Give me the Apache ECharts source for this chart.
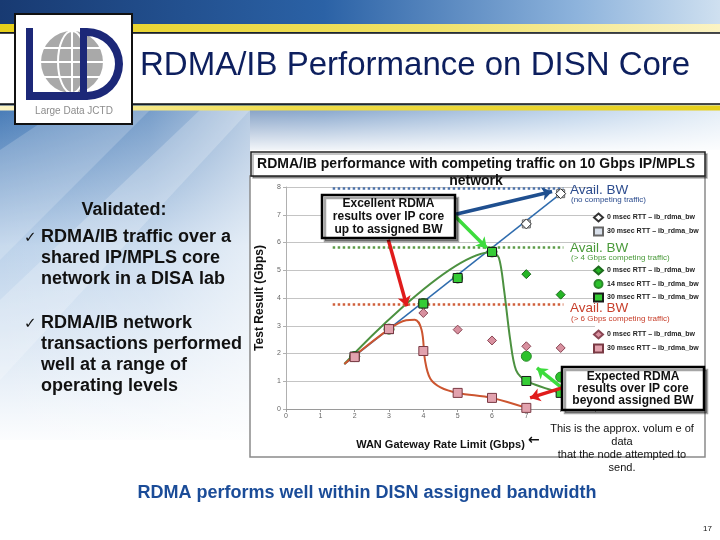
<!DOCTYPE html>
<html>
<head>
<meta charset="utf-8">
<script src="https://cdn.jsdelivr.net/npm/echarts@6/dist/echarts.min.js"></script>
<style>
  html, body { margin: 0; padding: 0; background: #fff; }
  #main { width: 720px; height: 540px; }
</style>
</head>
<body>
<div id="main"></div>
<script>
// rate limits (Gbps) where measurements were taken
const rateLimits = [2, 3, 4, 5, 6, 7, 8];

// no competing traffic
const blue0msec = [1.89, 2.88, 3.80, 4.72, 5.66, 6.67, 7.76];
const blue30msec = [1.89, 2.88, 3.80, 4.72, 5.66, 6.67, 7.76];
// > 4 Gbps competing traffic
const green0msec = [1.89, 2.88, 3.80, 4.72, 5.66, 4.86, 4.12];
const green14msec = [1.89, 2.88, 3.80, 4.72, 5.66, 1.90, 1.15];
const green30msec = [1.89, 2.88, 3.80, 4.72, 5.66, 1.01, 0.58];
// > 6 Gbps competing traffic
const red0msec = [1.87, 2.88, 3.46, 2.86, 2.47, 2.26, 2.20];
const red30msec = [1.87, 2.88, 2.09, 0.58, 0.40, 0.04, null];

// hand drawn trend curves
const blueTrendX = [1.7, 8.0];
const blueTrendY = [1.62, 7.76];
const greenTrendX = [1.7, 6.0, 6.2, 6.35, 6.53, 6.7, 7.0, 8.05];
const greenTrendY = [1.62, 5.66, 5.45, 4.3, 2.5, 1.4, 1.01, 0.56];
const redTrendX = [1.7, 3.0, 3.5, 3.75, 3.95, 4.05, 4.2, 4.5, 5.0, 6.0, 7.0];
const redTrendY = [1.62, 2.88, 3.2, 3.22, 2.85, 1.75, 1.1, 0.78, 0.58, 0.40, 0.04];

// available bandwidth levels (dotted) and their span on x
const availBW = [7.97, 5.84, 3.76];
const availSpan = [1.36, 8.08];

const xTicks = ['0', '1', '2', '3', '4', '5', '6', '7'];
const legendLabels = {
  b0: '0 msec RTT \u2013 ib_rdma_bw', b30: '30 msec RTT \u2013 ib_rdma_bw',
  g0: '0 msec RTT \u2013 ib_rdma_bw', g14: '14 msec RTT \u2013 ib_rdma_bw', g30: '30 msec RTT \u2013 ib_rdma_bw',
  r0: '0 msec RTT \u2013 ib_rdma_bw', r30: '30 msec RTT \u2013 ib_rdma_bw'
};

const FONT = '"Liberation Sans", Arial, sans-serif';
const BLUE = '#2f6cae', GREEN = '#4c9140', RED = '#cc5530';

const pairs = (xs, ys) => xs.map((x, i) => [x, ys[i]]).filter(p => p[1] != null);

const chart = echarts.init(document.getElementById('main'));

function txt(x, y, text, o) {
  return {
    type: 'text', z: 20,
    style: Object.assign({ x: x, y: y, text: text, fontFamily: FONT, fontSize: 12, fill: '#111', align: 'left', verticalAlign: 'middle' }, o || {})
  };
}
const LG = (stops, x2, y2) => new echarts.graphic.LinearGradient(0, 0, x2, y2, stops);

const graphics = [
  // slide background
  { type: 'rect', z: 0, shape: { x: 0, y: 0, width: 720, height: 150 },
    style: { fill: LG([{ offset: 0, color: '#183a72' }, { offset: 0.45, color: '#2b62a6' }, { offset: 0.8, color: '#8db3dc' }, { offset: 1, color: '#cfe0f0' }], 1, 0) } },
  { type: 'rect', z: 0, shape: { x: 0, y: 110, width: 250, height: 340 },
    style: { fill: LG([{ offset: 0, color: '#4a7db8' }, { offset: 0.4, color: '#bcd2ea' }, { offset: 1, color: '#ffffff' }], 0, 1) } },
  { type: 'rect', z: 0, shape: { x: 0, y: 110, width: 250, height: 340 },
    style: { fill: LG([{ offset: 0, color: 'rgba(255,255,255,0)' }, { offset: 0.6, color: 'rgba(255,255,255,0.25)' }, { offset: 1, color: 'rgba(255,255,255,0.6)' }], 1, 0) } },
  { type: 'polygon', z: 0, shape: { points: [[0, 150], [60, 110], [150, 110], [0, 260]] }, style: { fill: 'rgba(255,255,255,0.18)' } },
  { type: 'polygon', z: 0, shape: { points: [[0, 300], [200, 110], [250, 110], [0, 380]] }, style: { fill: 'rgba(255,255,255,0.22)' } },
  { type: 'rect', z: 0, shape: { x: 250, y: 110, width: 470, height: 45 },
    style: { fill: LG([{ offset: 0, color: 'rgba(255,255,255,0.45)' }, { offset: 1, color: '#ffffff' }], 0, 1) } },
  { type: 'rect', z: 0, shape: { x: 0, y: 440, width: 720, height: 100 }, style: { fill: '#ffffff' } },
  // header band
  { type: 'rect', z: 1, shape: { x: 0, y: 24, width: 720, height: 8 },
    style: { fill: LG([{ offset: 0, color: '#e6cf1a' }, { offset: 0.6, color: '#f0e26a' }, { offset: 1, color: '#fbf3c4' }], 1, 0) } },
  { type: 'rect', z: 1, shape: { x: -2, y: 33, width: 724, height: 71 }, style: { fill: '#fff', stroke: '#111', lineWidth: 1.5 } },
  { type: 'rect', z: 1, shape: { x: 0, y: 105.5, width: 720, height: 5 },
    style: { fill: LG([{ offset: 0, color: '#fbf3c4' }, { offset: 0.4, color: '#efdc4a' }, { offset: 1, color: '#e6cf1a' }], 1, 0) } },
  // logo
  { type: 'rect', z: 3, shape: { x: 15, y: 14, width: 117, height: 110 }, style: { fill: '#fff', stroke: '#111', lineWidth: 2 } },
  { type: 'circle', z: 4, shape: { cx: 72, cy: 62, r: 31 }, style: { fill: '#a9a9a9' } },
  { type: 'ellipse', z: 5, shape: { cx: 72, cy: 62, rx: 14, ry: 31 }, style: { fill: 'none', stroke: '#fff', lineWidth: 2 } },
  { type: 'line', z: 5, shape: { x1: 72, y1: 31, x2: 72, y2: 93 }, style: { stroke: '#fff', lineWidth: 2 } },
  { type: 'line', z: 5, shape: { x1: 44, y1: 48, x2: 100, y2: 48 }, style: { stroke: '#fff', lineWidth: 2 } },
  { type: 'line', z: 5, shape: { x1: 41, y1: 62, x2: 103, y2: 62 }, style: { stroke: '#fff', lineWidth: 2 } },
  { type: 'line', z: 5, shape: { x1: 44, y1: 77, x2: 100, y2: 77 }, style: { stroke: '#fff', lineWidth: 2 } },
  { type: 'rect', z: 6, shape: { x: 26, y: 28, width: 7, height: 72 }, style: { fill: '#1c2878' } },
  { type: 'rect', z: 6, shape: { x: 26, y: 92, width: 58, height: 8 }, style: { fill: '#1c2878' } },
  { type: 'rect', z: 6, shape: { x: 80, y: 28, width: 7, height: 72 }, style: { fill: '#1c2878' } },
  { type: 'sector', z: 6, shape: { cx: 87, cy: 64, r: 36, r0: 28, startAngle: -Math.PI / 2, endAngle: Math.PI / 2 }, style: { fill: '#1c2878' } },
  txt(74, 111, 'Large Data JCTD', { fontSize: 10, fill: '#8c8c8c', align: 'center' }),
  txt(140, 66, 'RDMA/IB Performance on DISN Core', { fontSize: 33, fill: '#0d1f5e' }),
  // left bullets
  txt(124, 210, 'Validated:', { fontSize: 18, fontWeight: 'bold', align: 'center' }),
  txt(24, 238, '\u2713', { fontSize: 15, fontFamily: '"DejaVu Sans", sans-serif' }),
  txt(41, 227, 'RDMA/IB traffic over a\nshared IP/MPLS core\nnetwork in a DISA lab', { fontSize: 18, fontWeight: 'bold', lineHeight: 21, verticalAlign: 'top' }),
  txt(24, 324, '\u2713', { fontSize: 15, fontFamily: '"DejaVu Sans", sans-serif' }),
  txt(41, 313, 'RDMA/IB network\ntransactions performed\nwell at a range of\noperating levels', { fontSize: 18, fontWeight: 'bold', lineHeight: 21, verticalAlign: 'top' }),
  // chart frame and title box
  { type: 'rect', z: 1, shape: { x: 250, y: 176, width: 455, height: 281 }, style: { fill: '#fff', stroke: '#8a8a8a', lineWidth: 1.5 } },
  { type: 'rect', z: 15, shape: { x: 251, y: 152, width: 454, height: 24 },
    style: { fill: '#fff', stroke: '#222', lineWidth: 1.5, shadowColor: 'rgba(0,0,0,0.3)', shadowOffsetX: 2, shadowOffsetY: 2 } },
  txt(476, 164, 'RDMA/IB performance with competing traffic on 10 Gbps IP/MPLS', { fontSize: 14, fontWeight: 'bold', align: 'center' }),
  txt(476, 181, 'network', { fontSize: 14, fontWeight: 'bold', align: 'center' }),
  // legend headings
  txt(570, 190, 'Avail. BW', { fontSize: 13.5, fill: '#2c4c8e' }),
  txt(571, 199.5, '(no competing traffic)', { fontSize: 8, fill: '#2c4c8e' }),
  txt(570, 248, 'Avail. BW', { fontSize: 13.5, fill: '#4a9a3a' }),
  txt(571, 258, '(> 4 Gbps competing traffic)', { fontSize: 8, fill: '#4a9a3a' }),
  txt(570, 308.5, 'Avail. BW', { fontSize: 13.5, fill: '#c8402c' }),
  txt(571, 319, '(> 6 Gbps competing traffic)', { fontSize: 8, fill: '#c8402c' }),
  // annotation boxes
  { type: 'rect', z: 18, shape: { x: 322, y: 195, width: 133, height: 43 },
    style: { fill: '#fff', stroke: '#000', lineWidth: 2.5, shadowColor: 'rgba(0,0,0,0.35)', shadowOffsetX: 3, shadowOffsetY: 3 } },
  txt(388.5, 216.5, 'Excellent RDMA\nresults over IP core\nup to assigned BW', { fontSize: 12, fontWeight: 'bold', align: 'center', lineHeight: 12.7 }),
  { type: 'rect', z: 18, shape: { x: 562, y: 367, width: 142, height: 43 },
    style: { fill: '#fff', stroke: '#000', lineWidth: 2.5, shadowColor: 'rgba(0,0,0,0.35)', shadowOffsetX: 3, shadowOffsetY: 3 } },
  txt(633, 388.5, 'Expected RDMA\nresults over IP core\nbeyond assigned BW', { fontSize: 12, fontWeight: 'bold', align: 'center', lineHeight: 12.3 }),
  txt(622, 448.5, 'This is the approx. volum e of\ndata\nthat the node attempted to\nsend.', { fontSize: 11, align: 'center', lineHeight: 12.8 }),
  txt(528, 440.5, '\u2190', { fontSize: 14, fontWeight: 'bold', fontFamily: '"DejaVu Sans", sans-serif' }),
  // footer
  txt(367, 493, 'RDMA performs well within DISN assigned bandwidth', { fontSize: 18, fontWeight: 'bold', fill: '#1b4c98', align: 'center' }),
  txt(712, 529, '17', { fontSize: 8, align: 'right' })
];

const scatterBase = (name, data, symbol, size, fill, border) => ({
  name: name, type: 'scatter', data: pairs(rateLimits, data), symbol: symbol, symbolSize: size, z: 6,
  itemStyle: { color: fill, borderColor: border, borderWidth: 1, opacity: 1 }
});

const lineBase = (xs, ys, color, width, smooth) => ({
  type: 'line', data: pairs(xs, ys), showSymbol: false, smooth: smooth, z: 4, silent: true,
  lineStyle: { color: color, width: width }
});

const dotted = availBW.map((y, i) => [
  { coord: [availSpan[0], y], lineStyle: { color: ['#4c72aa', '#5c9c48', '#d0603c'][i] } },
  { coord: [availSpan[1], y] }
]);

const arrowLines = [
  [[4.88, 7.0], [7.75, 7.84], '#1f4f8f'],
  [[4.88, 7.0], [5.85, 5.80], '#3ddc3d'],
  [[2.98, 6.1], [3.52, 3.70], '#e01b1b'],
  [[8.04, 0.76], [7.31, 1.48], '#3ddc3d'],
  [[8.04, 0.76], [7.11, 0.40], '#e01b1b']
].map(a => [{ coord: a[0], lineStyle: { color: a[2] } }, { coord: a[1] }]);

const blueTrend = lineBase(blueTrendX, blueTrendY, BLUE, 1.5, false);
blueTrend.markLine = {
  silent: true, symbol: ['none', 'none'], label: { show: false },
  lineStyle: { type: 'dotted', width: 2.5, opacity: 1 }, data: dotted
};
const redTrend = lineBase(redTrendX, redTrendY, RED, 2, 0.35);
redTrend.markLine = {
  silent: true, symbol: ['none', 'arrow'], symbolSize: [10, 10], z: 12, label: { show: false },
  lineStyle: { type: 'solid', width: 3.5, opacity: 1 }, data: arrowLines
};

const option = {
  animation: false,
  backgroundColor: '#ffffff',
  textStyle: { fontFamily: FONT },
  grid: { left: 286, right: 125, top: 187, bottom: 131, containLabel: false },
  xAxis: {
    type: 'value', min: 0, max: 9, interval: 1, z: 3,
    name: 'WAN Gateway Rate Limit (Gbps)', nameLocation: 'middle', nameGap: 30,
    nameTextStyle: { fontSize: 11, fontWeight: 'bold', color: '#111', fontFamily: FONT },
    axisLine: { show: true, lineStyle: { color: '#9a9a9a' } },
    axisTick: { show: true, length: 3, lineStyle: { color: '#9a9a9a' } },
    axisLabel: { fontSize: 7, color: '#666', margin: 4, formatter: v => (v < xTicks.length ? xTicks[v] : '') },
    splitLine: { show: false }
  },
  yAxis: {
    type: 'value', min: 0, max: 8, interval: 1, z: 3,
    name: 'Test Result (Gbps)', nameLocation: 'middle', nameGap: 20, nameRotate: 90,
    nameTextStyle: { fontSize: 12, fontWeight: 'bold', color: '#111', fontFamily: FONT },
    axisLine: { show: true, lineStyle: { color: '#b0b0b0' } },
    axisTick: { show: true, length: 3, lineStyle: { color: '#b0b0b0' } },
    axisLabel: { fontSize: 7, color: '#666', margin: 5 },
    splitLine: { show: true, lineStyle: { color: '#c4c4c4', width: 1 } }
  },
  legend: [
    { data: ['b0', 'b30'], top: 212.5, itemGap: 4 },
    { data: ['g0', 'g14', 'g30'], top: 265.5, itemGap: 3.5 },
    { data: ['r0', 'r30'], top: 329.5, itemGap: 4 }
  ].map(l => Object.assign({
    left: 593, orient: 'vertical', itemWidth: 9, itemHeight: 8, padding: 0, selectedMode: false, z: 16,
    formatter: n => legendLabels[n],
    textStyle: { fontSize: 7, fontWeight: 'bold', color: '#222', fontFamily: FONT, padding: [0, 0, 0, -1] }
  }, l)),
  graphic: { elements: graphics },
  series: [
    blueTrend,
    lineBase(greenTrendX, greenTrendY, GREEN, 2, 0.3),
    redTrend,
    scatterBase('b30', blue30msec, 'rect', 8, '#d8dfea', '#666666'),
    scatterBase('b0', blue0msec, 'diamond', 10, '#ffffff', '#333333'),
    scatterBase('g0', green0msec, 'diamond', 9, '#25b525', '#1d6b1d'),
    scatterBase('g14', green14msec, 'circle', 10, '#2cc22c', '#2a8a2a'),
    scatterBase('g30', green30msec, 'rect', 9, '#35cc35', '#1a1a1a'),
    scatterBase('r0', red0msec, 'diamond', 9, '#d8909f', '#8a4654'),
    scatterBase('r30', red30msec, 'rect', 9, '#e2a2ae', '#7a3a44')
  ]
};

chart.setOption(option);
</script>
</body>
</html>
